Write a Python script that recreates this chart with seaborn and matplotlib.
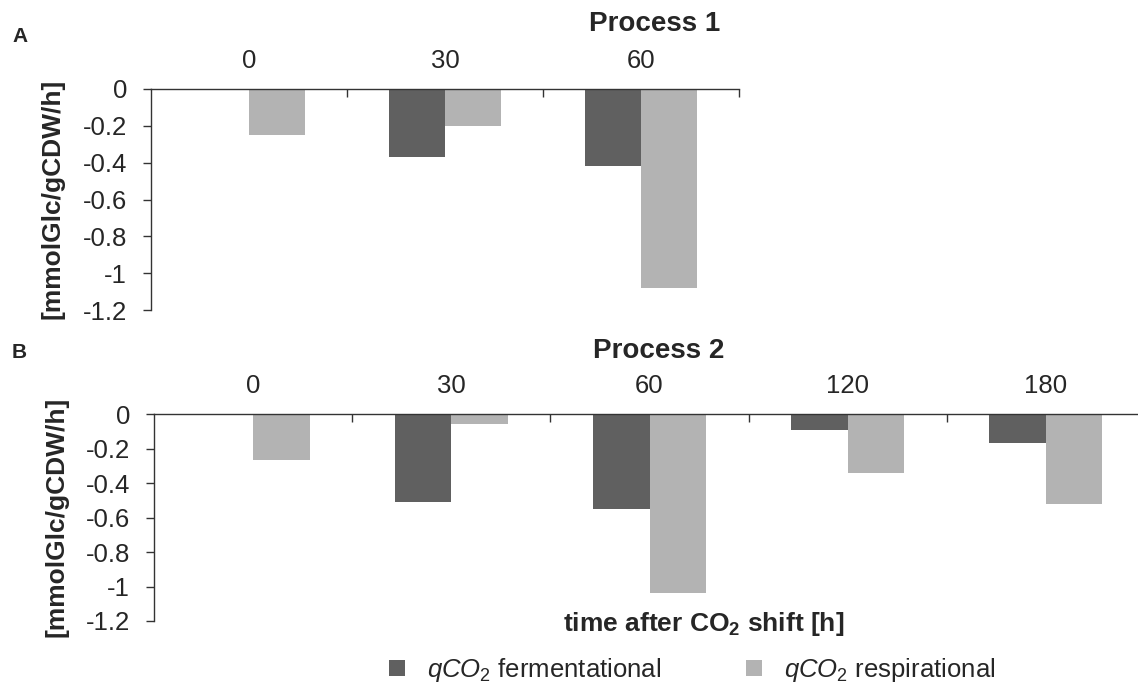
import numpy as np
import pandas as pd
import seaborn as sns
import matplotlib
matplotlib.use("Agg")
import matplotlib.pyplot as plt
from matplotlib.patches import Patch

# values (mmolGlc/gCDW/h), None = no bar
times_p1 = ["0", "30", "60"]
ferm_p1 = [None, -0.37, -0.42]
resp_p1 = [-0.25, -0.20, -1.08]

times_p2 = ["0", "30", "60", "120", "180"]
ferm_p2 = [None, -0.51, -0.55, -0.09, -0.17]
resp_p2 = [-0.265, -0.06, -1.04, -0.34, -0.52]

series_names = ["fermentational", "respirational"]
series_labels = [r"$qCO_2$ fermentational", r"$qCO_2$ respirational"]
colors = ["#606060", "#b3b3b3"]
yticks = [0, -0.2, -0.4, -0.6, -0.8, -1, -1.2]


def to_long(times, ferm, resp):
    rows = []
    for t, f, r in zip(times, ferm, resp):
        if f is not None:
            rows.append((t, series_names[0], f))
        if r is not None:
            rows.append((t, series_names[1], r))
    return pd.DataFrame(rows, columns=["time", "series", "value"])


sns.set_style("ticks")
plt.rcParams["font.family"] = ["Liberation Sans", "DejaVu Sans"]
plt.rcParams["mathtext.fontset"] = "custom"
plt.rcParams["mathtext.rm"] = "Liberation Sans"
plt.rcParams["mathtext.it"] = "Liberation Sans:italic"
plt.rcParams["mathtext.bf"] = "Liberation Sans:bold"

FS = 18.5
AXCOL = "#333333"

fig = plt.figure(figsize=(11.38, 6.85), dpi=100)
ax_a = fig.add_axes([151 / 1138, 1 - 310 / 685, 588 / 1138, 221 / 685])
ax_b = fig.add_axes([154 / 1138, 1 - 621 / 685, 991 / 1138, 207 / 685])


def draw_panel(ax, times, ferm, resp):
    df = to_long(times, ferm, resp)
    sns.barplot(
        data=df, x="time", y="value", hue="series",
        order=times, hue_order=series_names, palette=colors,
        width=0.571, saturation=1, errorbar=None, legend=False,
        linewidth=0, ax=ax,
    )
    n = len(times)
    ax.set_xlim(-0.5, n - 0.5)
    ax.set_ylim(-1.2, 0)
    ax.set_xlabel("")
    ax.set_ylabel("")
    for side in ["bottom", "right"]:
        ax.spines[side].set_visible(False)
    for side in ["top", "left"]:
        ax.spines[side].set_visible(True)
        ax.spines[side].set_color(AXCOL)
        ax.spines[side].set_linewidth(1.0)

    # category boundary ticks hang down from the zero line, labels sit above it
    ax.xaxis.set_ticks_position("top")
    ax.set_xticks(np.arange(0.5, n, 1))
    ax.set_xticklabels([])
    ax.set_xticks(np.arange(n), minor=True)
    ax.set_xticklabels(times, minor=True)
    ax.tick_params(axis="x", which="major", direction="in", length=5.8,
                   width=1, color=AXCOL, top=True, bottom=False)
    ax.tick_params(axis="x", which="minor", length=0, pad=11.5,
                   labelsize=FS, labeltop=True, labelbottom=False,
                   top=True, bottom=False)

    ax.set_yticks(yticks)
    ax.set_yticklabels([f"{v:g}" for v in yticks])
    ax.tick_params(axis="y", direction="out", length=5.8, width=1,
                   color=AXCOL, pad=11.5, labelsize=FS)


draw_panel(ax_a, times_p1, ferm_p1, resp_p1)
draw_panel(ax_b, times_p2, ferm_p2, resp_p2)

ylab = "[mmolGlc/gCDW/h]"
fig.text(53 / 1138, 1 - 199 / 685, ylab, rotation=90, ha="center", va="center",
         fontsize=19, fontweight="bold")
fig.text(57 / 1138, 1 - 517 / 685, ylab, rotation=90, ha="center", va="center",
         fontsize=19, fontweight="bold")

fig.text(655 / 1138, 1 - 24 / 685, "Process 1", ha="center", va="center",
         fontsize=20, fontweight="bold")
fig.text(659 / 1138, 1 - 351 / 685, "Process 2", ha="center", va="center",
         fontsize=20, fontweight="bold")

fig.text(12 / 1138, 1 - 36 / 685, "A", ha="left", va="center",
         fontsize=15, fontweight="bold")
fig.text(12 / 1138, 1 - 353 / 685, "B", ha="left", va="center",
         fontsize=15, fontweight="bold")

fig.text(704 / 1138, 1 - 624 / 685, r"time after CO$_\mathbf{2}$ shift [h]",
         ha="center", va="center", fontsize=19, fontweight="bold")

handles = [Patch(facecolor=c, edgecolor="none") for c in colors]
fig.legend(handles, series_labels, loc="center left",
           bbox_to_anchor=(389 / 1138, 1 - 670 / 685), ncol=2, frameon=False,
           fontsize=FS, handlelength=0.62, handleheight=0.62,
           handletextpad=0.85, columnspacing=3.3, borderpad=0,
           borderaxespad=0)

fig.savefig("out.png", dpi=100)
